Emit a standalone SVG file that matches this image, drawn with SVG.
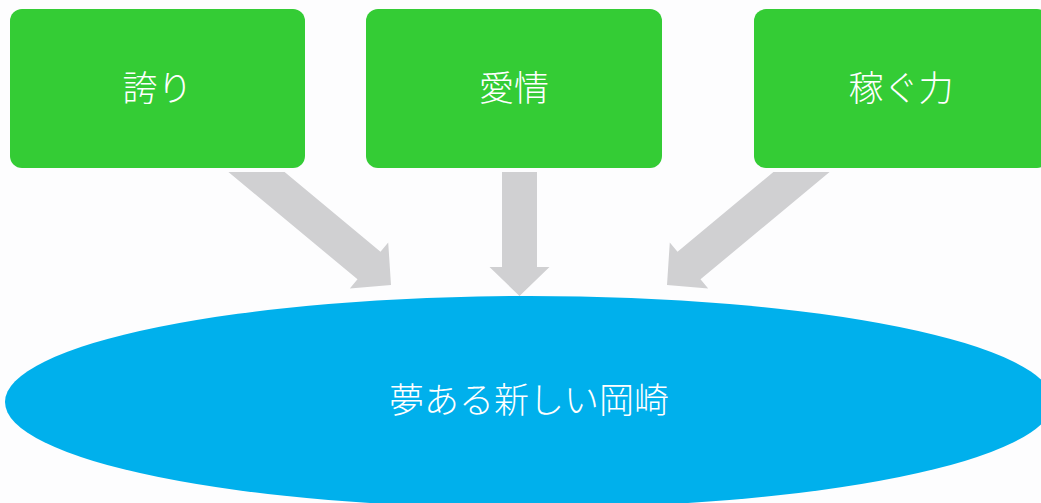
<svg xmlns="http://www.w3.org/2000/svg" width="1041" height="503" viewBox="0 0 1041 503">
  <style>
    .box { fill: #34cc35; }
    .lbl { fill: #ffffff; font-family: "Noto Sans CJK JP", "Noto Sans", sans-serif; font-size: 35px; font-weight: 300; text-anchor: middle; dominant-baseline: central; }
    .arrow { fill: #d0d0d2; }
    .oval { fill: #00b0ec; }
  </style>
  <rect x="0" y="0" width="1041" height="503" fill="#fdfdfe"/>
  <g id="node-goal">
    <ellipse class="oval" cx="529" cy="402" rx="524" ry="106"/>
    <text class="lbl" x="529" y="397">夢ある新しい岡崎</text>
  </g>
  <g id="connectors">
    <polygon class="arrow" points="228.4,172 284.6,172 380.5,251.7 388.2,242.4 391,285 349.8,288.6 357.5,279.3"/>
    <polygon class="arrow" points="502,172 537,172 537,267 549.5,267 519.5,296 489.5,267 502,267"/>
    <polygon class="arrow" points="829.6,172 773.4,172 677.5,251.7 669.8,242.4 667,285 708.2,288.6 700.5,279.3"/>
  </g>
  <g id="node-pride">
    <rect class="box" x="10" y="9" width="295" height="159" rx="12"/>
    <text class="lbl" x="157.5" y="85">誇り</text>
  </g>
  <g id="node-love">
    <rect class="box" x="366" y="9" width="296" height="159" rx="12"/>
    <text class="lbl" x="514" y="85">愛情</text>
  </g>
  <g id="node-earn">
    <rect class="box" x="754" y="9" width="295" height="159" rx="12"/>
    <text class="lbl" x="901" y="85">稼ぐ力</text>
  </g>
</svg>
